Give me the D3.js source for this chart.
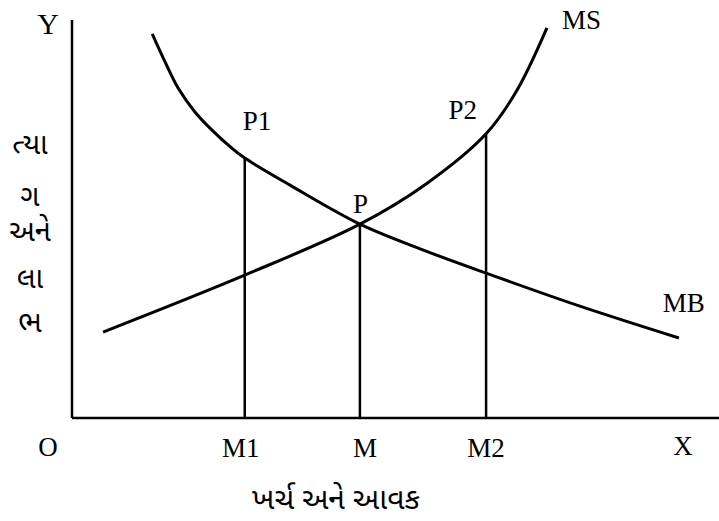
<!DOCTYPE html>
<html>
<head>
<meta charset="utf-8">
<script src="https://cdn.jsdelivr.net/npm/d3@7"></script>
<style>
  body { margin: 0; background: #fff; }
  svg { display: block; }
  .serif { font-family: "Liberation Serif", "Times New Roman", Tinos, "DejaVu Serif", serif; }
  .guj { font-family: "Noto Sans Gujarati", "Noto Serif Gujarati", "Lohit Gujarati", sans-serif; }
</style>
</head>
<body>
<div id="chart"></div>
<script>
// curve points in chart units (0..100 on both axes)
let mbCurve = [
    [12.4, 96.5], [14.4, 89.4], [16.4, 82.9], [19.0, 76.9], [21.6, 72.4], [24.7, 67.8],
    [26.7, 65.3], [33.7, 58.5], [44.5, 48.7], [53.8, 42.5], [64.0, 36.4], [78.5, 28.1], [93.8, 20.1]
];
let msCurve = [
    [4.8, 21.6], [26.7, 35.9], [44.5, 48.7], [54.9, 59.0], [64.0, 71.4], [68.8, 82.4], [73.4, 98.0]
];
let dropLines = [
    { name: "M1", x: 26.7, top: 65.3, point: "P1" },
    { name: "M", x: 44.5, top: 48.7, point: "P" },
    { name: "M2", x: 64.0, top: 71.4, point: "P2" }
];
let yLabelParts = ["ત્યા", "ગ", "અને", "લા", "ભ"];
let xTitle = "ખર્ચ અને આવક";

function configuration(){
    let width = 719;
    let height = 521;
    let margin = { top: 20, bottom: 103, left: 72, right: 0 };
    let bodyHeight = height - margin.top - margin.bottom;
    let bodyWidth = width - margin.left - margin.right;
    let svg = d3.select("#chart")
                .append("svg")
                .attr("width", width)
                .attr("height", height);
    let container = svg.append("g")
                .attr("transform", "translate(" + [margin.left, margin.top] + ")");
    return { width, height, margin, bodyHeight, bodyWidth, svg, container };
}

function makeScales(config){
    let { bodyHeight, bodyWidth } = config;
    let xScale = d3.scaleLinear().domain([0, 100]).range([0, bodyWidth]);
    let yScale = d3.scaleLinear().domain([0, 100]).range([bodyHeight, 0]);
    return { xScale, yScale };
}

function drawChart(config, scales){
    let { container, bodyHeight, bodyWidth } = config;
    let { xScale, yScale } = scales;

    // axes
    container.append("line")
        .attr("x1", 0).attr("y1", 0).attr("x2", 0).attr("y2", bodyHeight)
        .style("stroke", "#000").style("stroke-width", 2.5);
    container.append("line")
        .attr("x1", 0).attr("y1", bodyHeight).attr("x2", bodyWidth).attr("y2", bodyHeight)
        .style("stroke", "#000").style("stroke-width", 2.5);

    // vertical lines down to the x axis
    container.selectAll(".drop")
        .data(dropLines)
        .enter()
        .append("line")
        .attr("x1", d => xScale(d.x)).attr("x2", d => xScale(d.x))
        .attr("y1", d => yScale(d.top)).attr("y2", yScale(0))
        .style("stroke", "#000").style("stroke-width", 2.5);

    let line = d3.line()
        .x(d => xScale(d[0]))
        .y(d => yScale(d[1]))
        .curve(d3.curveCatmullRom.alpha(0.5));

    container.selectAll(".curve")
        .data([mbCurve, msCurve])
        .enter()
        .append("path")
        .attr("d", line)
        .style("fill", "none")
        .style("stroke", "#000")
        .style("stroke-width", 3);

    // tick labels under the drop lines
    container.selectAll(".mlabel")
        .data(dropLines)
        .enter()
        .append("text")
        .attr("class", "serif")
        .attr("x", (d, i) => xScale(d.x) + [-4, 5, 0][i])
        .attr("y", bodyHeight + 39)
        .attr("text-anchor", "middle")
        .style("font-size", "27px")
        .text(d => d.name);

    // point labels
    let pointOffsets = [[-2, -28, "start"], [-7, -11, "start"], [-9, -15, "end"]];
    container.selectAll(".plabel")
        .data(dropLines)
        .enter()
        .append("text")
        .attr("class", "serif")
        .attr("x", (d, i) => xScale(d.x) + pointOffsets[i][0])
        .attr("y", (d, i) => yScale(d.top) + pointOffsets[i][1])
        .attr("text-anchor", (d, i) => pointOffsets[i][2])
        .style("font-size", "27px")
        .text(d => d.point);

    // curve names at their ends
    let msEnd = msCurve[msCurve.length - 1];
    let mbEnd = mbCurve[mbCurve.length - 1];
    container.append("text")
        .attr("class", "serif")
        .attr("x", xScale(msEnd[0]) + 15).attr("y", yScale(msEnd[1]) + 1)
        .style("font-size", "27px")
        .text("MS");
    container.append("text")
        .attr("class", "serif")
        .attr("x", xScale(mbEnd[0]) + 26).attr("y", yScale(mbEnd[1]) - 26)
        .attr("text-anchor", "end")
        .style("font-size", "27px")
        .text("MB");

    // axis letters
    container.append("text")
        .attr("class", "serif")
        .attr("x", -24).attr("y", 14).attr("text-anchor", "middle")
        .style("font-size", "30px")
        .text("Y");
    container.append("text")
        .attr("class", "serif")
        .attr("x", -24).attr("y", bodyHeight + 38).attr("text-anchor", "middle")
        .style("font-size", "27px")
        .text("O");
    container.append("text")
        .attr("class", "serif")
        .attr("x", bodyWidth - 36).attr("y", bodyHeight + 37).attr("text-anchor", "middle")
        .style("font-size", "27px")
        .text("X");

    // vertical Gujarati y title, one piece per row
    let rowY = [134, 186, 221, 268, 312];
    container.selectAll(".ylab")
        .data(yLabelParts)
        .enter()
        .append("text")
        .attr("class", "guj")
        .attr("x", -42)
        .attr("y", (d, i) => rowY[i])
        .attr("text-anchor", "middle")
        .style("font-size", "29px")
        .text(d => d);

    container.append("text")
        .attr("class", "guj")
        .attr("x", xScale(40.8))
        .attr("y", bodyHeight + 91)
        .attr("text-anchor", "middle")
        .style("font-size", "30px")
        .text(xTitle);
}

let config = configuration();
let scales = makeScales(config);
drawChart(config, scales);
</script>
</body>
</html>
